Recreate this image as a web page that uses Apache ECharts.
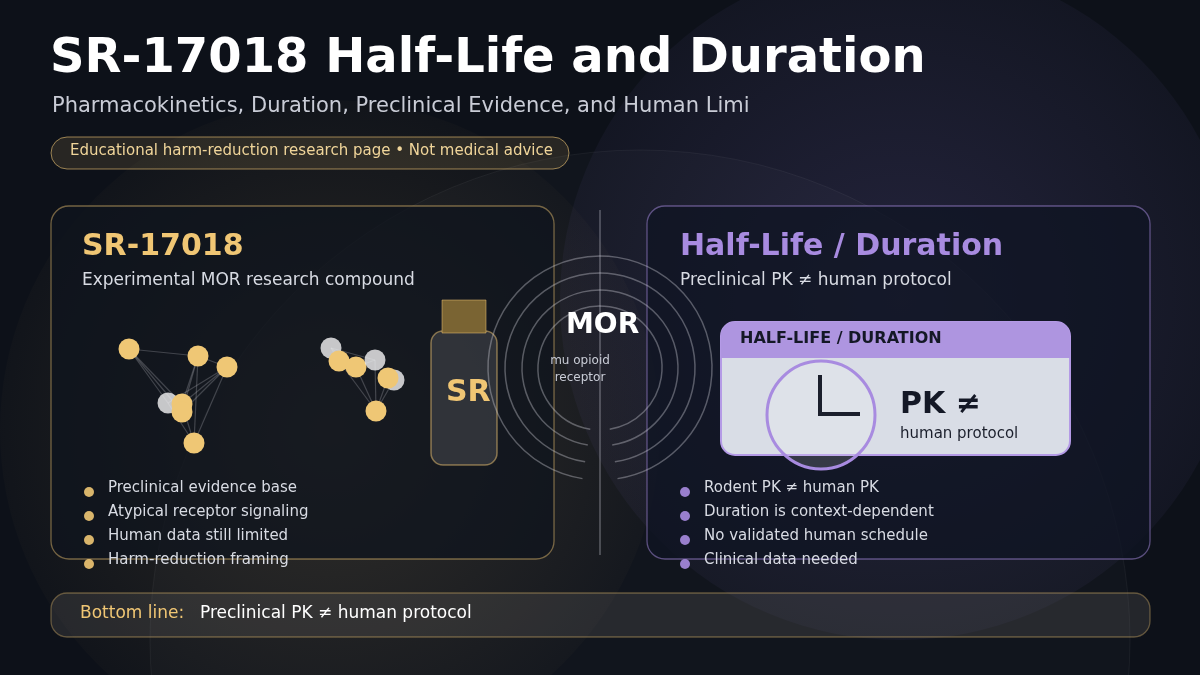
<!DOCTYPE html>
<html><head><meta charset="utf-8">
<script src="https://cdn.jsdelivr.net/npm/echarts@6/dist/echarts.min.js"></script>
<style>html,body{margin:0;padding:0;background:#0d1119}#c{width:1200px;height:675px}</style>
</head><body><div id="c"></div>
<script>
var title = 'SR-17018 Half-Life and Duration';
var subtitle = 'Pharmacokinetics, Duration, Preclinical Evidence, and Human Limi';
var badge = 'Educational harm-reduction research page • Not medical advice';
var leftBullets = ['Preclinical evidence base','Atypical receptor signaling','Human data still limited','Harm-reduction framing'];
var rightBullets = ['Rodent PK ≠ human PK','Duration is context-dependent','No validated human schedule','Clinical data needed'];
// molecule atoms [x, y, kind] kind 0 = gold, 1 = white
var atomsA = [[129,349,0],[198,356,0],[227,367,0],[168,403,1],[182,404,0],[182,412,0],[194,443,0]];
var atomsB = [[331,348,1],[339,361,0],[356,367,0],[375,360,1],[394,380,1],[388,378,0],[376,411,0]];
var bondsA = [[0,1],[0,4],[0,5],[0,3],[1,4],[1,6],[1,5],[2,4],[2,6],[2,5],[2,3],[1,2],[4,6],[3,6]];
var bondsB = [[0,1],[0,2],[0,3],[1,6],[2,6],[3,6],[5,6],[4,6],[2,3]];

var gold='#f0c674', purple='#a88be0';
var FF='DejaVu Sans';
var chart = echarts.init(document.getElementById('c'));
function T(x,y,text,color,size,bold,extra){var s={text:text,fill:color,fontFamily:FF,fontSize:size,fontWeight:bold?'bold':'normal'};if(extra)for(var k in extra)s[k]=extra[k];return {type:'text',x:x,y:y,style:s};}
function bondLines(atoms,bonds){return bonds.map(function(b){return {coords:[[atoms[b[0]][0],atoms[b[0]][1]],[atoms[b[1]][0],atoms[b[1]][1]]]};});}
function atomData(atoms){return atoms.map(function(a){return {value:[a[0],a[1]],itemStyle:{color:a[2]?'rgba(240,240,242,0.9)':'#efc775',opacity:a[2]?0.9:1}};});}
var g=[];
g.push({type:'circle',z:-10,shape:{cx:330,cy:430,r:330},style:{fill:new echarts.graphic.RadialGradient(0.5,0.5,0.5,[{offset:0,color:'rgba(240,198,116,0.14)'},{offset:1,color:'rgba(240,198,116,0.02)'}])}});
g.push({type:'circle',z:-10,shape:{cx:900,cy:300,r:340},style:{fill:new echarts.graphic.RadialGradient(0.5,0.5,0.5,[{offset:0,color:'rgba(140,120,220,0.18)'},{offset:1,color:'rgba(140,120,220,0.05)'}])}});
g.push({type:'circle',z:-9,shape:{cx:640,cy:640,r:490},style:{fill:'rgba(255,255,255,0.02)',stroke:'rgba(255,255,255,0.05)',lineWidth:1}});
g.push(T(50,36,title,'#ffffff',48,true));
g.push(T(52,96,subtitle,'#c9ccd6',21,false));
g.push({type:'rect',shape:{x:51,y:137,width:518,height:32,r:16},style:{fill:'rgba(240,198,116,0.12)',stroke:'rgba(240,198,116,0.6)',lineWidth:1}});
g.push(T(70,144,badge,'#f0d59a',15,false));
g.push({type:'rect',shape:{x:51,y:206,width:503,height:353,r:18},style:{fill:'rgba(15,20,30,0.75)',stroke:'rgba(240,198,116,0.45)',lineWidth:1.3}});
g.push({type:'rect',shape:{x:647,y:206,width:503,height:353,r:18},style:{fill:'rgba(15,20,35,0.75)',stroke:'rgba(168,139,224,0.5)',lineWidth:1.3}});
g.push(T(82,232,'SR-17018',gold,30,true));
g.push(T(82,272,'Experimental MOR research compound','#d8dbe3',17,false));
g.push(T(680,232,'Half-Life / Duration',purple,30,true));
g.push(T(680,272,'Preclinical PK ≠ human protocol','#d8dbe3',17,false));
leftBullets.forEach(function(t,i){
  g.push({type:'circle',shape:{cx:89,cy:492+i*24,r:5},style:{fill:gold,opacity:0.9}});
  g.push(T(108,481+i*24,t,'#d8dbe3',15,false));
});
rightBullets.forEach(function(t,i){
  g.push({type:'circle',shape:{cx:685,cy:492+i*24,r:5},style:{fill:purple,opacity:0.9}});
  g.push(T(704,481+i*24,t,'#d8dbe3',15,false));
});
g.push({type:'rect',shape:{x:431,y:331,width:66,height:134,r:12},style:{fill:'rgba(60,62,68,0.7)',stroke:'rgba(240,198,116,0.5)',lineWidth:1.5}});
g.push({type:'rect',shape:{x:442,y:300,width:44,height:33},style:{fill:'#7a6433',stroke:'rgba(240,198,116,0.5)',lineWidth:1}});
g.push(T(446,378,'SR',gold,30,true));
[62,78,95,112].forEach(function(r){
  g.push({type:'arc',shape:{cx:600,cy:368,r:r,startAngle:Math.PI*0.55,endAngle:Math.PI*2.45},style:{stroke:'rgba(220,220,230,0.35)',lineWidth:1.5,fill:null}});
});
g.push({type:'line',shape:{x1:600,y1:210,x2:600,y2:555},style:{stroke:'rgba(220,220,230,0.35)',lineWidth:1.5}});
g.push(T(566,312,'MOR','#ffffff',28,true));
g.push(T(580,352,'mu opioid\nreceptor','#c9ccd6',12,false,{align:'center',lineHeight:17}));
g.push({type:'rect',shape:{x:721,y:322,width:349,height:133,r:14},style:{fill:'#d9dde6',stroke:'#b49ae6',lineWidth:2}});
g.push({type:'rect',shape:{x:721,y:322,width:349,height:36,r:[14,14,0,0]},style:{fill:'#ae95e0'}});
g.push(T(740,331,'HALF-LIFE / DURATION','#141826',16,true));
g.push({type:'circle',shape:{cx:821,cy:415,r:54},style:{fill:'rgba(255,255,255,0.15)',stroke:'#a88be0',lineWidth:3}});
g.push({type:'polyline',shape:{points:[[820,375],[820,414],[860,414]]},style:{stroke:'#1b1f2c',lineWidth:4,fill:null}});
g.push(T(900,390,'PK ≠','#141826',30,true));
g.push(T(900,427,'human protocol','#1b1f2c',15,false));
g.push({type:'rect',shape:{x:51,y:593,width:1099,height:44,r:16},style:{fill:'rgba(120,115,110,0.22)',stroke:'rgba(240,198,116,0.35)',lineWidth:1.3}});
g.push(T(80,605,'Bottom line:',gold,17,false));
g.push(T(200,605,'Preclinical PK ≠ human protocol','#ffffff',17,false));

chart.setOption({
  backgroundColor:'#0d1119',
  animation:false,
  grid:{left:0,right:0,top:0,bottom:0},
  xAxis:{type:'value',min:0,max:1200,show:false},
  yAxis:{type:'value',min:0,max:675,inverse:true,show:false},
  graphic:g,
  series:[
    {type:'lines',coordinateSystem:'cartesian2d',z:5,lineStyle:{color:'rgba(190,190,195,0.55)',width:1.2},data:bondLines(atomsA,bondsA).concat(bondLines(atomsB,bondsB))},
    {type:'scatter',z:6,symbolSize:21,silent:true,data:atomData(atomsA).concat(atomData(atomsB))}
  ]
});
</script></body></html>
